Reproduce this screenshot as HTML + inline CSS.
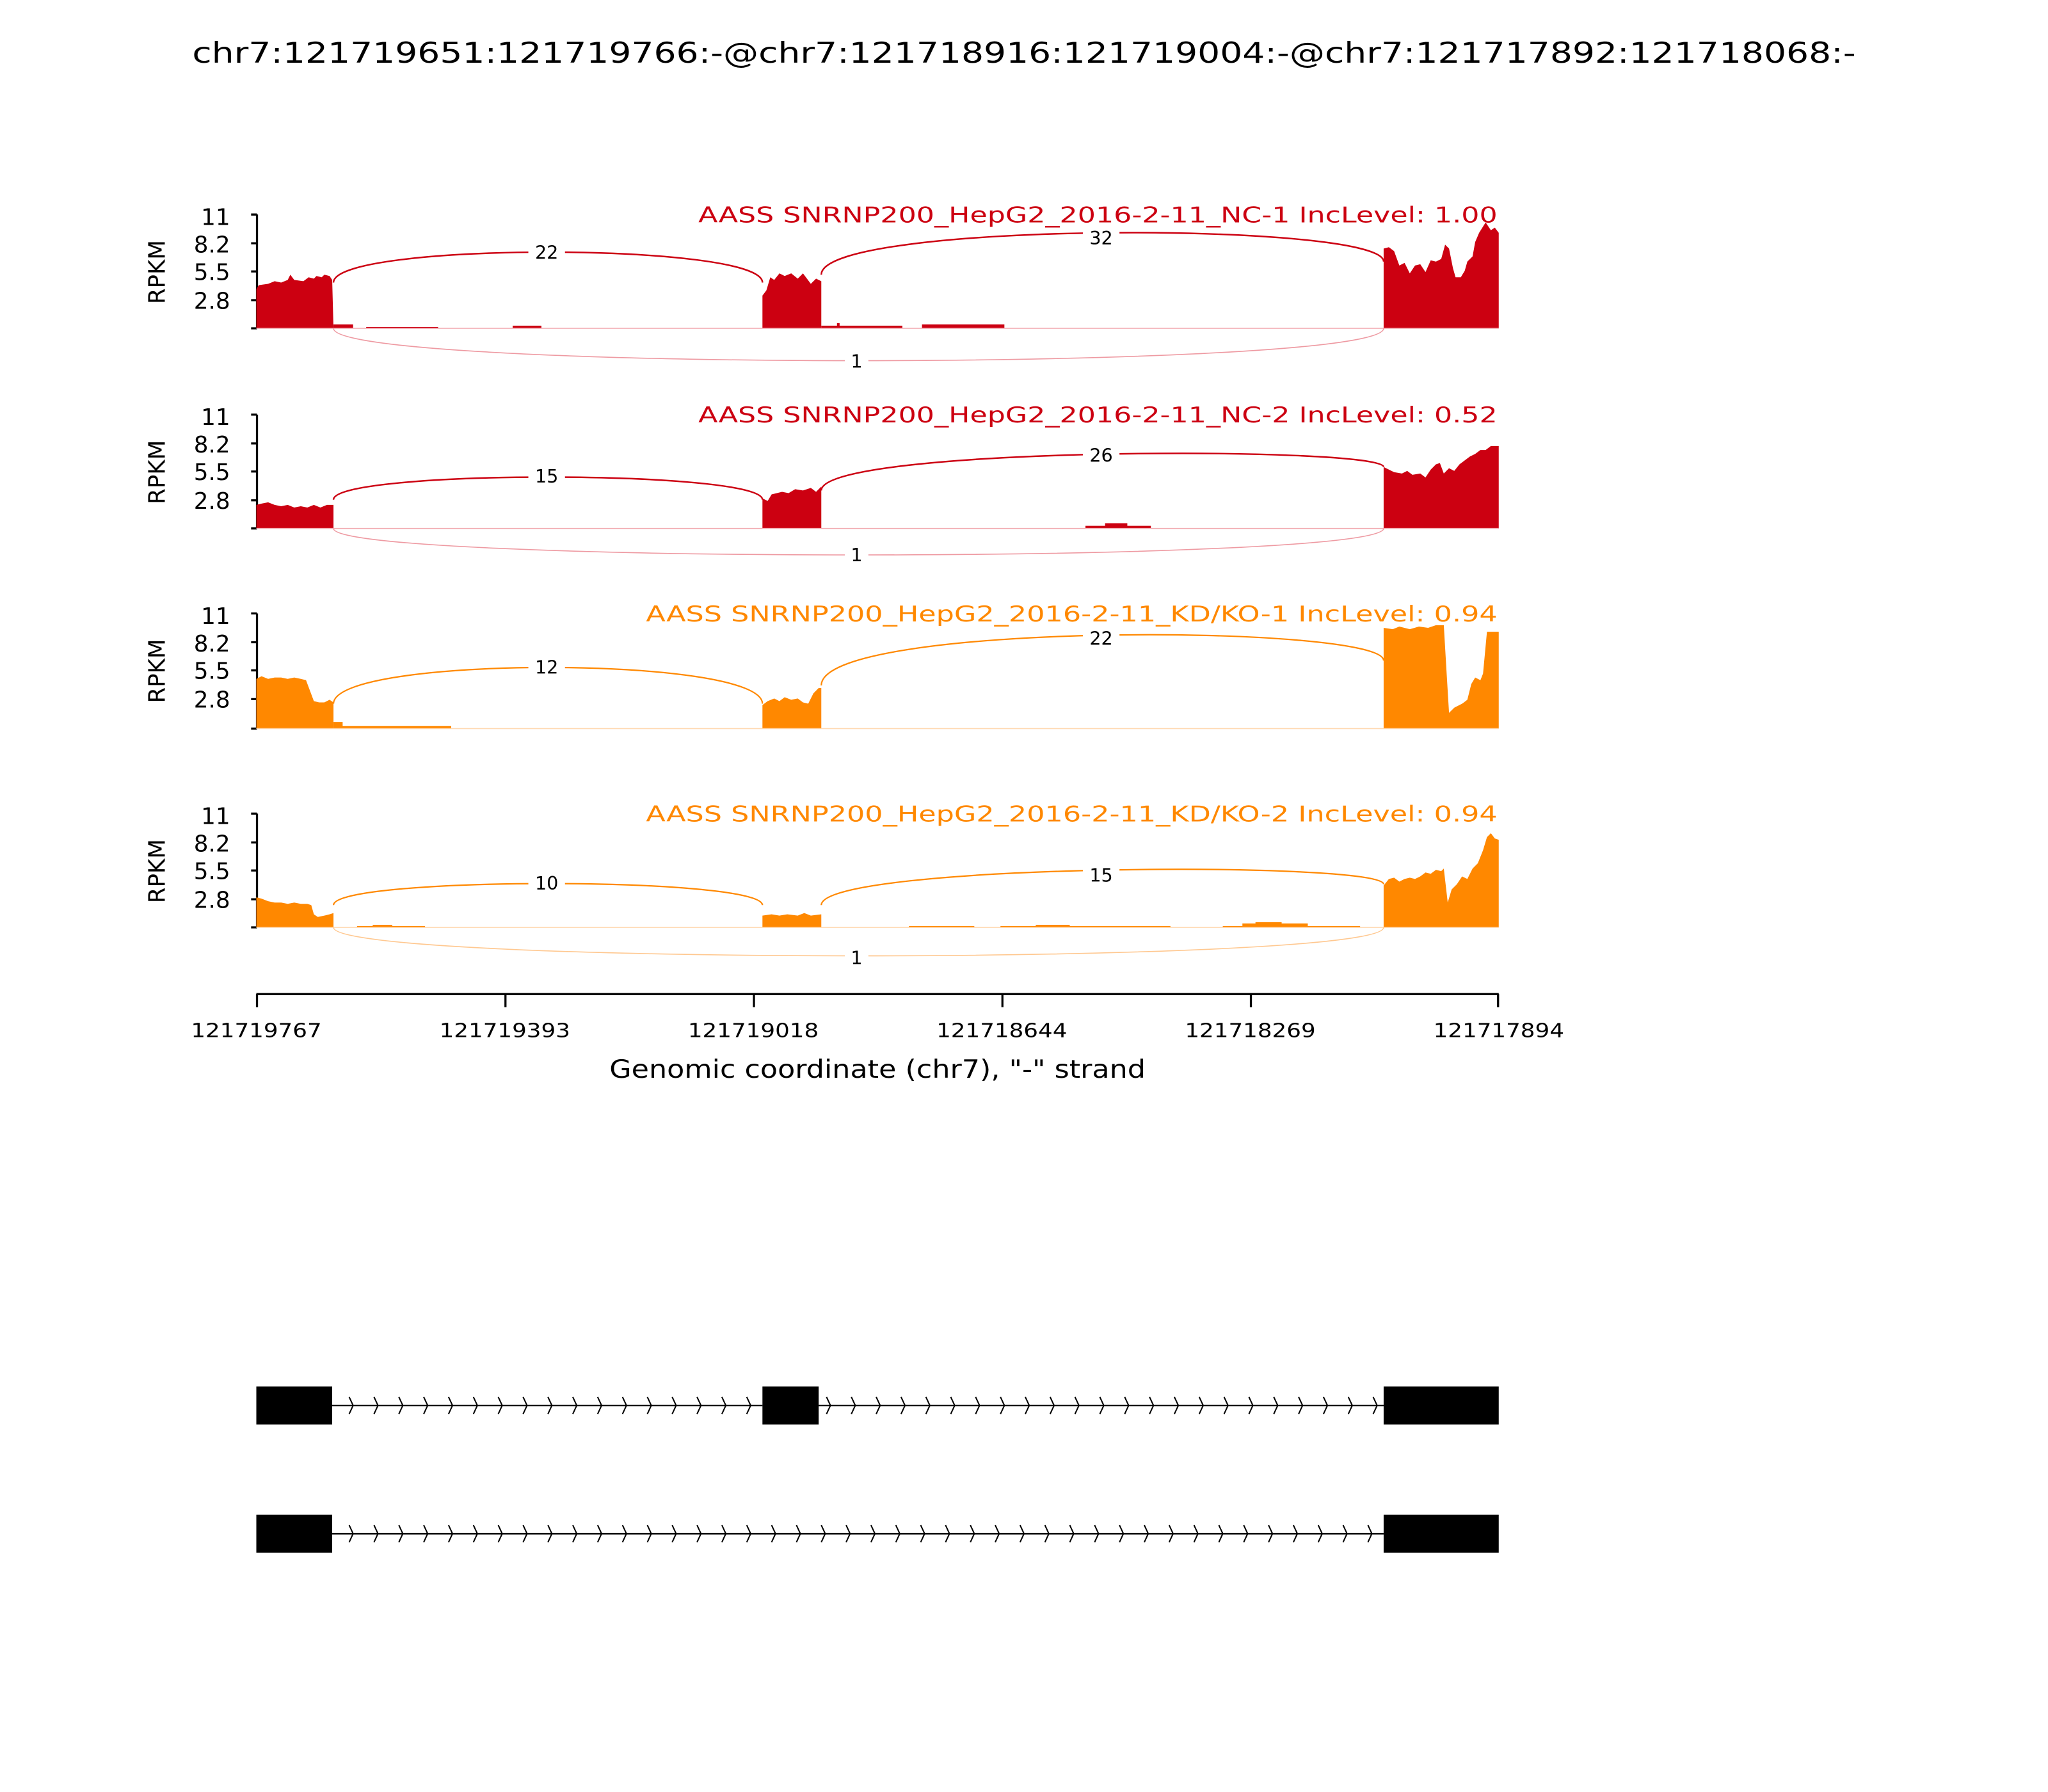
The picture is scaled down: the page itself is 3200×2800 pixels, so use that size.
<!DOCTYPE html>
<html><head><meta charset="utf-8"><style>html,body{margin:0;padding:0;background:#fff}svg{display:block}</style></head>
<body>
<svg width="3200" height="2800" viewBox="0 0 1566 1370" preserveAspectRatio="none" xmlns="http://www.w3.org/2000/svg" font-family="DejaVu Sans, Liberation Sans, sans-serif">
<rect width="1566" height="1370" fill="#fff"/>
<text x="783" y="48" font-size="22" text-anchor="middle" textLength="1272" lengthAdjust="spacingAndGlyphs">chr7:121719651:121719766:-@chr7:121718916:121719004:-@chr7:121717892:121718068:-</text>

<g stroke="#000" stroke-width="1.6" fill="none">
 <path d="M196.5,164V251M192,164H196.5M192,186H196.5M192,207.5H196.5M192,229.5H196.5M192,251H196.5"/>
 <path d="M196.5,317V404M192,317H196.5M192,339H196.5M192,360.5H196.5M192,382.5H196.5M192,404H196.5"/>
 <path d="M196.5,469V557M192,469H196.5M192,491H196.5M192,512.5H196.5M192,534.5H196.5M192,557H196.5"/>
 <path d="M196.5,622V709M192,622H196.5M192,644H196.5M192,665.5H196.5M192,687.5H196.5M192,709H196.5"/>
</g>
<g font-size="17.5" text-anchor="end">
 <text x="176" y="172">11</text><text x="176" y="193">8.2</text><text x="176" y="214">5.5</text><text x="176" y="236">2.8</text>
 <text x="176" y="325">11</text><text x="176" y="346">8.2</text><text x="176" y="367">5.5</text><text x="176" y="389">2.8</text>
 <text x="176" y="477">11</text><text x="176" y="498">8.2</text><text x="176" y="519">5.5</text><text x="176" y="541">2.8</text>
 <text x="176" y="630">11</text><text x="176" y="651">8.2</text><text x="176" y="672">5.5</text><text x="176" y="694">2.8</text>
</g>
<g font-size="17.5" text-anchor="middle">
 <text transform="translate(126,208) rotate(-90)" textLength="49" lengthAdjust="spacingAndGlyphs">RPKM</text>
 <text transform="translate(126,361) rotate(-90)" textLength="49" lengthAdjust="spacingAndGlyphs">RPKM</text>
 <text transform="translate(126,513) rotate(-90)" textLength="49" lengthAdjust="spacingAndGlyphs">RPKM</text>
 <text transform="translate(126,666) rotate(-90)" textLength="49" lengthAdjust="spacingAndGlyphs">RPKM</text>
</g>

<!-- Panel 1 -->
<g fill="#CC0011">
 <text x="1145" y="170" font-size="16.5" text-anchor="end" textLength="611" lengthAdjust="spacingAndGlyphs">AASS SNRNP200_HepG2_2016-2-11_NC-1 IncLevel: 1.00</text>
 <path d="M196,251V221L198,218L205,217L210,215L215,216L220,214L222,210L225,214L232,215L236,212L240,213L242,211L246,212L248,210L252,211L254,214L255,251Z"/>
 <path d="M255,251V248H270V251ZM280,251V250H335V251ZM392,251V249H414V251Z"/>
 <path d="M583,251V226L586,222L589,212L592,214L596,209L600,211L605,209L610,213L614,209L620,217L624,213L628,215V251Z"/>
 <path d="M628,251V249H640V247H642V249H690V251ZM705,251V248H768V251Z"/>
 <path d="M1058,251V190L1062,189L1066,192L1070,203L1074,201L1078,209L1082,203L1086,202L1090,208L1094,199L1098,200L1102,198L1105,187L1108,190L1111,205L1113,212L1117,212L1120,207L1122,200L1126,196L1128,185L1131,178L1136,170L1140,176L1143,174L1146,178V251Z"/>
</g>
<line x1="196" y1="251" x2="1146" y2="251" stroke="#f2aab0" stroke-width="0.8"/>
<g fill="none" stroke="#CC0011" stroke-width="1.2">
 <path d="M255,216C255,185 583,185 583,216"/>
 <path d="M628,210C628,169 1058,169 1058,200"/>
</g>
<path d="M255,251C255,284 1058,284 1058,251" fill="none" stroke="#ee9aa2" stroke-width="0.8"/>
<g font-size="14" text-anchor="middle">
 <rect x="404" y="184" width="28" height="17" fill="#fff"/><text x="418" y="198">22</text>
 <rect x="828" y="173" width="28" height="17" fill="#fff"/><text x="842" y="187">32</text>
 <rect x="646" y="267" width="18" height="17" fill="#fff"/><text x="655" y="281">1</text>
</g>

<!-- Panel 2 -->
<g fill="#CC0011">
 <text x="1145" y="323" font-size="16.5" text-anchor="end" textLength="611" lengthAdjust="spacingAndGlyphs">AASS SNRNP200_HepG2_2016-2-11_NC-2 IncLevel: 0.52</text>
 <path d="M196,404V386L200,385L205,384L210,386L215,387L220,386L225,388L230,387L235,388L240,386L245,388L250,386L255,386V404Z"/>
 <path d="M583,404V381L587,383L590,378L594,377L598,376L603,377L608,374L614,375L620,373L624,376L628,372V404Z"/>
 <path d="M830,404V402H845V400H862V402H880V404Z"/>
 <path d="M1058,404V357L1062,359L1066,361L1072,362L1076,360L1080,363L1086,362L1090,365L1094,359L1098,355L1101,354L1104,362L1108,358L1112,360L1116,355L1120,352L1124,349L1128,347L1132,344L1136,344L1140,341L1146,341V404Z"/>
</g>
<line x1="196" y1="404" x2="1146" y2="404" stroke="#f2aab0" stroke-width="0.8"/>
<g fill="none" stroke="#CC0011" stroke-width="1.2">
 <path d="M255,382C255,359 583,359 583,382"/>
 <path d="M628,375C628,341 1058,341 1058,357"/>
</g>
<path d="M255,404C255,431 1058,431 1058,404" fill="none" stroke="#ee9aa2" stroke-width="0.8"/>
<g font-size="14" text-anchor="middle">
 <rect x="404" y="355" width="28" height="17" fill="#fff"/><text x="418" y="369">15</text>
 <rect x="828" y="339" width="28" height="17" fill="#fff"/><text x="842" y="353">26</text>
 <rect x="646" y="415" width="18" height="17" fill="#fff"/><text x="655" y="429">1</text>
</g>

<!-- Panel 3 -->
<g fill="#FF8800">
 <text x="1145" y="475" font-size="16.5" text-anchor="end" textLength="651" lengthAdjust="spacingAndGlyphs">AASS SNRNP200_HepG2_2016-2-11_KD/KO-1 IncLevel: 0.94</text>
 <path d="M196,557V519L200,517L205,519L210,518L215,518L220,519L225,518L230,519L234,520L237,528L240,536L244,537L248,537L252,535L255,537V557Z"/>
 <path d="M255,557V552H262V555H345V557Z"/>
 <path d="M583,557V539L587,536L592,534L596,536L600,533L605,535L610,534L614,537L618,538L622,530L626,526L628,526V557Z"/>
 <path d="M1058,557V480L1065,481L1070,479L1078,481L1085,479L1092,480L1098,478L1104,478L1106,512L1108,545L1112,541L1118,538L1122,535L1125,523L1128,518L1132,520L1134,515L1137,483L1140,483L1146,483V557Z"/>
</g>
<line x1="196" y1="557" x2="1146" y2="557" stroke="#ffd8b0" stroke-width="0.8"/>
<g fill="none" stroke="#FF8800" stroke-width="1.1">
 <path d="M255,538C255,501 583,501 583,538"/>
 <path d="M628,524C628,475 1058,477 1058,505"/>
</g>
<g font-size="14" text-anchor="middle">
 <rect x="404" y="501" width="28" height="17" fill="#fff"/><text x="418" y="515">12</text>
 <rect x="828" y="479" width="28" height="17" fill="#fff"/><text x="842" y="493">22</text>
</g>

<!-- Panel 4 -->
<g fill="#FF8800">
 <text x="1145" y="628" font-size="16.5" text-anchor="end" textLength="651" lengthAdjust="spacingAndGlyphs">AASS SNRNP200_HepG2_2016-2-11_KD/KO-2 IncLevel: 0.94</text>
 <path d="M196,709V686L200,687L205,689L210,690L215,690L220,691L225,690L230,691L235,691L238,692L240,699L243,701L248,700L252,699L255,698V709Z"/>
 <path d="M273,709V708H285V707H300V708H325V709Z"/>
 <path d="M583,709V700L590,699L596,700L602,699L610,700L615,698L620,700L628,699V709Z"/>
 <path d="M695,709V708H745V709ZM765,709V708H792V707H818V708H895V709ZM935,709V708H950V706H960V705H980V706H1000V708H1040V709Z"/>
 <path d="M1058,709V677L1062,672L1066,671L1070,674L1074,672L1078,671L1082,672L1086,670L1090,667L1094,668L1098,665L1102,666L1104,664L1107,690L1110,680L1114,676L1118,670L1122,672L1126,664L1130,660L1134,650L1137,640L1140,637L1143,641L1146,642V709Z"/>
</g>
<line x1="196" y1="709" x2="1146" y2="709" stroke="#ffd8b0" stroke-width="0.8"/>
<g fill="none" stroke="#FF8800" stroke-width="1.1">
 <path d="M255,692C255,670 583,670 583,692"/>
 <path d="M628,692C628,660 1058,658 1058,676"/>
</g>
<path d="M255,709C255,738 1058,738 1058,709" fill="none" stroke="#ffc890" stroke-width="0.8"/>
<g font-size="14" text-anchor="middle">
 <rect x="404" y="666" width="28" height="17" fill="#fff"/><text x="418" y="680">10</text>
 <rect x="828" y="660" width="28" height="17" fill="#fff"/><text x="842" y="674">15</text>
 <rect x="646" y="723" width="18" height="17" fill="#fff"/><text x="655" y="737">1</text>
</g>

<!-- x axis -->
<g stroke="#000" stroke-width="1.6" fill="none">
 <path d="M196,760H1146M196.5,760V770M386.5,760V770M576.5,760V770M766.5,760V770M956.5,760V770M1145.5,760V770"/>
</g>
<g font-size="15" text-anchor="middle">
 <text x="196" y="793" textLength="100" lengthAdjust="spacingAndGlyphs">121719767</text><text x="386" y="793" textLength="100" lengthAdjust="spacingAndGlyphs">121719393</text><text x="576" y="793" textLength="100" lengthAdjust="spacingAndGlyphs">121719018</text>
 <text x="766" y="793" textLength="100" lengthAdjust="spacingAndGlyphs">121718644</text><text x="956" y="793" textLength="100" lengthAdjust="spacingAndGlyphs">121718269</text><text x="1146" y="793" textLength="100" lengthAdjust="spacingAndGlyphs">121717894</text>
</g>
<text x="671" y="824" font-size="19" text-anchor="middle" textLength="410" lengthAdjust="spacingAndGlyphs">Genomic coordinate (chr7), "-" strand</text>

<!-- gene models -->
<g fill="#000">
 <rect x="196" y="1060" width="58" height="29"/>
 <rect x="583" y="1060" width="43" height="29"/>
 <rect x="1058" y="1060" width="88" height="29"/>
 <rect x="196" y="1158" width="58" height="29"/>
 <rect x="1058" y="1158" width="88" height="29"/>
</g>
<g stroke="#000" stroke-width="1.2" fill="none">
 <path d="M254,1074.5H583M626,1074.5H1058M254,1172.5H1058"/>
</g>
<g stroke="#000" stroke-width="1" fill="none">
 <path d="M267,1068l3,6.5l-3,6.5M286,1068l3,6.5l-3,6.5M305,1068l3,6.5l-3,6.5M324,1068l3,6.5l-3,6.5M343,1068l3,6.5l-3,6.5M362,1068l3,6.5l-3,6.5M381,1068l3,6.5l-3,6.5M400,1068l3,6.5l-3,6.5M419,1068l3,6.5l-3,6.5M438,1068l3,6.5l-3,6.5M457,1068l3,6.5l-3,6.5M476,1068l3,6.5l-3,6.5M495,1068l3,6.5l-3,6.5M514,1068l3,6.5l-3,6.5M533,1068l3,6.5l-3,6.5M552,1068l3,6.5l-3,6.5M571,1068l3,6.5l-3,6.5"/>
 <path d="M632,1068l3,6.5l-3,6.5M651,1068l3,6.5l-3,6.5M670,1068l3,6.5l-3,6.5M689,1068l3,6.5l-3,6.5M708,1068l3,6.5l-3,6.5M727,1068l3,6.5l-3,6.5M746,1068l3,6.5l-3,6.5M765,1068l3,6.5l-3,6.5M784,1068l3,6.5l-3,6.5M803,1068l3,6.5l-3,6.5M822,1068l3,6.5l-3,6.5M841,1068l3,6.5l-3,6.5M860,1068l3,6.5l-3,6.5M879,1068l3,6.5l-3,6.5M898,1068l3,6.5l-3,6.5M917,1068l3,6.5l-3,6.5M936,1068l3,6.5l-3,6.5M955,1068l3,6.5l-3,6.5M974,1068l3,6.5l-3,6.5M993,1068l3,6.5l-3,6.5M1012,1068l3,6.5l-3,6.5M1031,1068l3,6.5l-3,6.5M1050,1068l3,6.5l-3,6.5"/>
 <path d="M267,1166l3,6.5l-3,6.5M286,1166l3,6.5l-3,6.5M305,1166l3,6.5l-3,6.5M324,1166l3,6.5l-3,6.5M343,1166l3,6.5l-3,6.5M362,1166l3,6.5l-3,6.5M381,1166l3,6.5l-3,6.5M400,1166l3,6.5l-3,6.5M419,1166l3,6.5l-3,6.5M438,1166l3,6.5l-3,6.5M457,1166l3,6.5l-3,6.5M476,1166l3,6.5l-3,6.5M495,1166l3,6.5l-3,6.5M514,1166l3,6.5l-3,6.5M533,1166l3,6.5l-3,6.5M552,1166l3,6.5l-3,6.5M571,1166l3,6.5l-3,6.5M590,1166l3,6.5l-3,6.5M609,1166l3,6.5l-3,6.5M628,1166l3,6.5l-3,6.5M647,1166l3,6.5l-3,6.5M666,1166l3,6.5l-3,6.5M685,1166l3,6.5l-3,6.5M704,1166l3,6.5l-3,6.5M723,1166l3,6.5l-3,6.5M742,1166l3,6.5l-3,6.5M761,1166l3,6.5l-3,6.5M780,1166l3,6.5l-3,6.5M799,1166l3,6.5l-3,6.5M818,1166l3,6.5l-3,6.5M837,1166l3,6.5l-3,6.5M856,1166l3,6.5l-3,6.5M875,1166l3,6.5l-3,6.5M894,1166l3,6.5l-3,6.5M913,1166l3,6.5l-3,6.5M932,1166l3,6.5l-3,6.5M951,1166l3,6.5l-3,6.5M970,1166l3,6.5l-3,6.5M989,1166l3,6.5l-3,6.5M1008,1166l3,6.5l-3,6.5M1027,1166l3,6.5l-3,6.5M1046,1166l3,6.5l-3,6.5"/>
</g>
</svg>
</body></html>
